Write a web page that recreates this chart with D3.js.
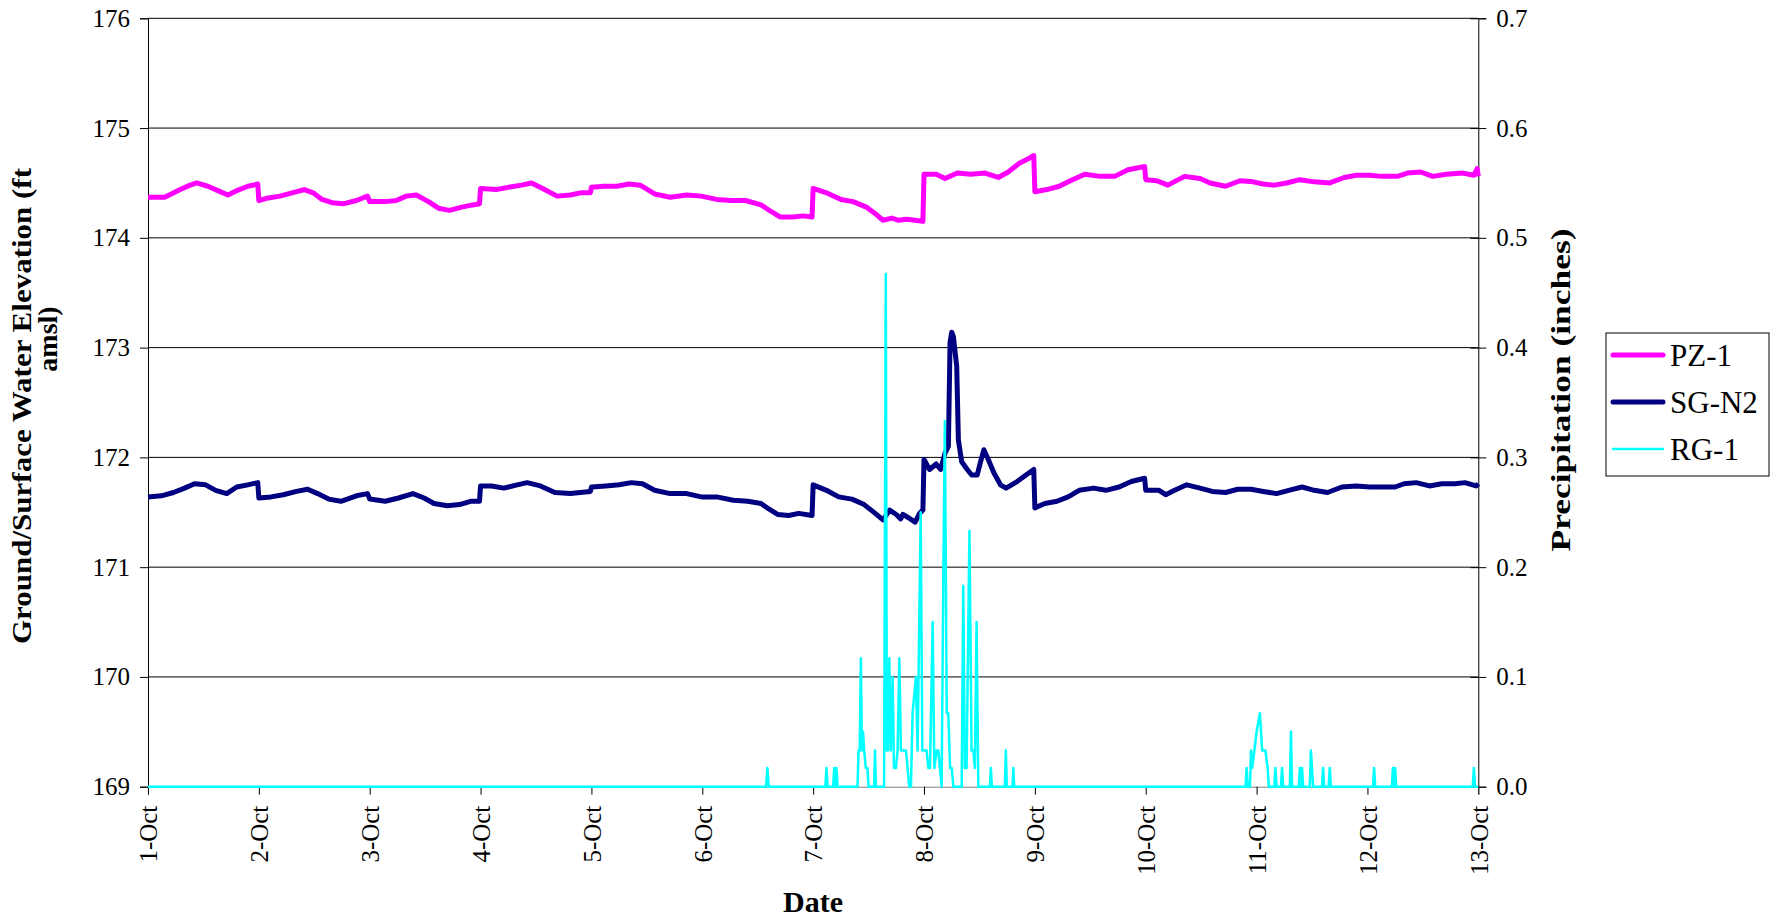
<!DOCTYPE html>
<html>
<head>
<meta charset="utf-8">
<script src="https://cdn.jsdelivr.net/npm/d3@7"></script>
<style>
  body { margin: 0; background: #fff; }
  svg text { font-family: "Palatino Linotype", "Book Antiqua", Palatino, "Liberation Serif", serif; fill: #000; }
</style>
</head>
<body>
<script>
// tick labels
var elevTicks = [169, 170, 171, 172, 173, 174, 175, 176];
var precipTicks = [0, 0.1, 0.2, 0.3, 0.4, 0.5, 0.6, 0.7];
var seriesNames = ['PZ-1', 'SG-N2', 'RG-1'];

// readings as [days since 1-Oct, value]
var pz1 = [[0,174.37],[0.15,174.37],[0.21,174.40],[0.29,174.44],[0.38,174.48],[0.44,174.50],[0.54,174.47],[0.63,174.43],
  [0.72,174.39],[0.80,174.43],[0.90,174.47],[0.99,174.49],[1.0,174.34],[1.07,174.36],[1.19,174.38],[1.30,174.41],
  [1.41,174.44],[1.49,174.41],[1.57,174.35],[1.66,174.32],[1.76,174.31],[1.88,174.34],[1.98,174.38],[2.0,174.33],
  [2.14,174.33],[2.24,174.34],[2.33,174.38],[2.42,174.39],[2.53,174.33],[2.62,174.27],[2.72,174.25],[2.83,174.28],
  [2.93,174.30],[2.99,174.31],[3.0,174.45],[3.14,174.44],[3.25,174.46],[3.37,174.48],[3.46,174.50],[3.56,174.45],
  [3.69,174.38],[3.81,174.39],[3.90,174.41],[3.99,174.41],[4.0,174.46],[4.11,174.47],[4.23,174.47],[4.34,174.49],
  [4.44,174.48],[4.57,174.40],[4.71,174.37],[4.86,174.39],[4.99,174.38],[5.13,174.35],[5.26,174.34],[5.39,174.34],
  [5.53,174.30],[5.62,174.24],[5.70,174.19],[5.82,174.19],[5.91,174.20],[5.99,174.19],[6.0,174.45],[6.12,174.41],
  [6.25,174.35],[6.36,174.33],[6.48,174.28],[6.56,174.22],[6.63,174.16],[6.71,174.18],[6.77,174.16],[6.84,174.17],
  [6.92,174.16],[6.99,174.15],[7.0,174.58],[7.11,174.58],[7.19,174.54],[7.30,174.59],[7.42,174.58],[7.55,174.59],
  [7.67,174.55],[7.76,174.60],[7.86,174.68],[7.94,174.72],[7.99,174.75],[8.0,174.42],[8.11,174.44],[8.22,174.47],
  [8.32,174.52],[8.45,174.58],[8.59,174.56],[8.72,174.56],[8.84,174.62],[8.99,174.65],[9.0,174.53],[9.10,174.52],
  [9.20,174.48],[9.35,174.56],[9.49,174.54],[9.58,174.50],[9.72,174.47],[9.85,174.52],[9.97,174.51],[10.06,174.49],
  [10.16,174.48],[10.27,174.50],[10.39,174.53],[10.52,174.51],[10.66,174.50],[10.79,174.55],[10.90,174.57],
  [11.02,174.57],[11.13,174.56],[11.27,174.56],[11.36,174.59],[11.48,174.60],[11.59,174.56],[11.71,174.58],
  [11.86,174.59],[11.96,174.57],[11.99,174.63],[12.0,174.56]];

var sgn2 = [[0,171.64],[0.12,171.65],[0.23,171.68],[0.33,171.72],[0.42,171.76],[0.52,171.75],[0.61,171.70],[0.71,171.67],
  [0.80,171.73],[0.90,171.75],[0.99,171.77],[1.0,171.63],[1.11,171.64],[1.22,171.66],[1.34,171.69],[1.44,171.71],
  [1.53,171.67],[1.63,171.62],[1.74,171.60],[1.88,171.65],[1.98,171.67],[2.0,171.62],[2.14,171.60],[2.26,171.63],
  [2.39,171.67],[2.49,171.63],[2.58,171.58],[2.70,171.56],[2.81,171.57],[2.91,171.60],[2.99,171.60],[3.0,171.74],
  [3.10,171.74],[3.21,171.72],[3.33,171.75],[3.42,171.77],[3.54,171.74],[3.67,171.68],[3.81,171.67],[3.99,171.69],
  [4.0,171.73],[4.13,171.74],[4.25,171.75],[4.36,171.77],[4.46,171.76],[4.57,171.70],[4.71,171.67],[4.86,171.67],
  [4.99,171.64],[5.13,171.64],[5.28,171.61],[5.41,171.60],[5.53,171.58],[5.60,171.53],[5.68,171.48],[5.78,171.47],
  [5.87,171.49],[5.99,171.47],[6.0,171.75],[6.12,171.70],[6.23,171.64],[6.35,171.62],[6.46,171.57],[6.56,171.49],
  [6.63,171.43],[6.69,171.52],[6.75,171.48],[6.79,171.44],[6.81,171.48],[6.86,171.45],[6.92,171.41],[6.96,171.49],
  [6.99,171.52],[7.0,171.98],[7.05,171.89],[7.11,171.94],[7.15,171.89],[7.19,172.04],[7.22,172.10],[7.235,173.05],
  [7.25,173.14],[7.265,173.10],[7.295,172.83],[7.31,172.16],[7.34,171.96],[7.39,171.89],[7.43,171.84],[7.48,171.84],
  [7.51,171.96],[7.54,172.07],[7.58,171.98],[7.63,171.86],[7.69,171.75],[7.74,171.72],[7.84,171.78],[7.92,171.84],
  [7.99,171.89],[8.0,171.54],[8.09,171.58],[8.20,171.60],[8.30,171.64],[8.40,171.70],[8.53,171.72],[8.64,171.70],
  [8.76,171.73],[8.87,171.78],[8.99,171.81],[9.0,171.70],[9.12,171.70],[9.18,171.66],[9.26,171.70],[9.37,171.75],
  [9.49,171.72],[9.60,171.69],[9.72,171.68],[9.83,171.71],[9.95,171.71],[10.06,171.69],[10.18,171.67],[10.29,171.70],
  [10.41,171.73],[10.52,171.70],[10.64,171.68],[10.77,171.73],[10.90,171.74],[11.02,171.73],[11.13,171.73],
  [11.25,171.73],[11.33,171.76],[11.44,171.77],[11.56,171.74],[11.67,171.76],[11.79,171.76],[11.88,171.77],
  [11.98,171.74],[12.0,171.76]];

var rg1 = [[0,0],[5.575,0],[5.587,0.017],[5.60,0],[6.11,0],[6.12,0.017],[6.13,0],[6.18,0],[6.19,0.017],[6.20,0],
  [6.21,0.017],[6.22,0],[6.40,0],[6.41,0.033],[6.42,0.033],[6.43,0.117],[6.44,0.033],[6.45,0.05],[6.46,0.033],
  [6.475,0.017],[6.49,0.017],[6.50,0],[6.55,0],[6.558,0.033],[6.566,0],[6.64,0],[6.655,0.467],[6.665,0.033],
  [6.675,0.033],[6.687,0.117],[6.70,0.033],[6.717,0.1],[6.729,0.017],[6.747,0.017],[6.762,0.033],[6.777,0.117],
  [6.792,0.033],[6.807,0.033],[6.837,0.033],[6.852,0.017],[6.867,0],[6.882,0],[6.897,0.067],[6.927,0.1],
  [6.942,0.033],[6.97,0.25],[6.985,0.033],[7.0,0.033],[7.023,0.033],[7.039,0.017],[7.054,0.017],[7.078,0.15],
  [7.093,0.017],[7.114,0.033],[7.129,0.033],[7.144,0.017],[7.159,0],[7.175,0.2],[7.188,0.333],[7.205,0.067],
  [7.219,0.067],[7.235,0.017],[7.25,0.017],[7.265,0],[7.34,0],[7.354,0.183],[7.368,0.017],[7.384,0.017],
  [7.41,0.233],[7.429,0.033],[7.444,0.033],[7.459,0.017],[7.474,0.15],[7.49,0],[7.594,0],[7.603,0.017],[7.612,0],
  [7.729,0],[7.738,0.033],[7.747,0],[7.799,0],[7.805,0.017],[7.814,0],[9.90,0],[9.91,0.017],[9.92,0],[9.94,0],
  [9.95,0.033],[9.96,0.017],[9.98,0.033],[10.0,0.05],[10.03,0.067],[10.05,0.033],[10.08,0.033],[10.10,0.017],
  [10.11,0],[10.16,0],[10.17,0.017],[10.18,0],[10.22,0],[10.23,0.017],[10.24,0],[10.30,0],[10.31,0.05],[10.32,0],
  [10.38,0],[10.39,0.017],[10.40,0],[10.41,0.017],[10.42,0],[10.48,0],[10.49,0.033],[10.50,0.017],[10.51,0],
  [10.59,0],[10.60,0.017],[10.61,0],[10.65,0],[10.66,0.017],[10.67,0],[11.05,0],[11.06,0.017],[11.07,0],[11.22,0],
  [11.23,0.017],[11.24,0],[11.25,0.017],[11.26,0],[11.95,0],[11.96,0.017],[11.97,0],[12.0,0]];

var W = 1777, H = 919;
var plotL = 148, plotR = 1478.3, plotT = 18.3, plotB = 786.7;
var fontStack = '"Palatino Linotype", "Book Antiqua", Palatino, "Liberation Serif", serif';
var t0 = Date.UTC(2007, 9, 1);
function toDate(d) { return new Date(t0 + d * 864e5); }

var svg = d3.select('body').append('svg').attr('width', W).attr('height', H);

var x = d3.scaleUtc().domain([toDate(0), toDate(12)]).range([plotL, plotR]);
var yL = d3.scaleLinear().domain([169, 176]).range([plotB, plotT]);
var yR = d3.scaleLinear().domain([0, 0.7]).range([plotB, plotT]);

// gridlines
svg.append('g').selectAll('line').data(elevTicks.slice(1)).enter().append('line')
  .attr('x1', plotL).attr('x2', plotR)
  .attr('y1', function(d) { return yL(d); }).attr('y2', function(d) { return yL(d); })
  .attr('stroke', '#000').attr('stroke-width', 1);

// x axis
var xAxis = svg.append('g').attr('transform', 'translate(0,' + plotB + ')')
  .call(d3.axisBottom(x).ticks(d3.utcDay.every(1)).tickSize(8).tickFormat(d3.utcFormat('%-d-%b')));
xAxis.attr('font-family', fontStack);
xAxis.select('.domain').attr('stroke', '#808080');
xAxis.selectAll('.tick line').attr('stroke', '#000');
xAxis.selectAll('.tick text')
  .attr('transform', 'rotate(-90)').attr('x', -19).attr('y', 0).attr('dy', '0.35em')
  .style('text-anchor', 'end').style('font-size', '25px');

// left axis
var lAxis = svg.append('g').attr('transform', 'translate(' + plotL + ',0)')
  .call(d3.axisLeft(yL).tickValues(elevTicks).tickSize(8).tickPadding(10).tickFormat(d3.format('d')));
lAxis.attr('font-family', fontStack);
lAxis.selectAll('text').style('font-size', '25px');

// right axis
var rAxis = svg.append('g').attr('transform', 'translate(' + plotR + ',0)')
  .call(d3.axisRight(yR).tickValues(precipTicks).tickSize(8).tickPadding(10).tickFormat(d3.format('.1f')));
rAxis.attr('font-family', fontStack);
rAxis.selectAll('.tick line').attr('x1', -8);
rAxis.selectAll('text').style('font-size', '25px');
svg.selectAll('.domain').attr('stroke-width', 1);

// lines
var lineL = d3.line().x(function(d) { return x(toDate(d[0])); }).y(function(d) { return yL(d[1]); });
var lineR = d3.line().x(function(d) { return x(toDate(d[0])); }).y(function(d) { return yR(d[1]); });

svg.append('path').datum(pz1).attr('d', lineL).attr('fill', 'none')
  .attr('stroke', '#ff00ff').attr('stroke-width', 5).attr('stroke-linejoin', 'round');
svg.append('path').datum(sgn2).attr('d', lineL).attr('fill', 'none')
  .attr('stroke', '#000080').attr('stroke-width', 5).attr('stroke-linejoin', 'round');
svg.append('path').datum(rg1).attr('d', lineR).attr('fill', 'none')
  .attr('stroke', '#00ffff').attr('stroke-width', 2.5).attr('stroke-linejoin', 'round');

// axis titles
svg.append('text').attr('transform', 'translate(31,406) rotate(-90)')
  .attr('text-anchor', 'middle').style('font-size', '28px').style('font-weight', 'bold')
  .attr('textLength', 476).attr('lengthAdjust', 'spacingAndGlyphs')
  .text('Ground/Surface Water Elevation (ft');
svg.append('text').attr('transform', 'translate(57,339) rotate(-90)')
  .attr('text-anchor', 'middle').style('font-size', '28px').style('font-weight', 'bold')
  .text('amsl)');
svg.append('text').attr('transform', 'translate(1570,390) rotate(-90)')
  .attr('text-anchor', 'middle').style('font-size', '28px').style('font-weight', 'bold')
  .attr('textLength', 323).attr('lengthAdjust', 'spacingAndGlyphs')
  .text('Precipitation (inches)');
svg.append('text').attr('x', 813).attr('y', 912)
  .attr('text-anchor', 'middle').style('font-size', '30px').style('font-weight', 'bold')
  .text('Date');

// legend
var legend = svg.append('g').attr('transform', 'translate(1606,333)');
legend.append('rect').attr('width', 163).attr('height', 143)
  .attr('fill', '#fff').attr('stroke', '#000').attr('stroke-width', 1);
var legendColors = ['#ff00ff', '#000080', '#00ffff'];
var legendWidths = [5, 5, 2.5];
var item = legend.selectAll('.item').data(seriesNames).enter().append('g')
  .attr('transform', function(d, i) { return 'translate(0,' + (22 + i * 47) + ')'; });
item.append('line').attr('x1', 7).attr('x2', 57)
  .attr('stroke', function(d, i) { return legendColors[i]; })
  .attr('stroke-width', function(d, i) { return legendWidths[i]; })
  .attr('stroke-linecap', 'round');
item.append('text').attr('x', 64).attr('dy', '0.35em').style('font-size', '31px')
  .text(function(d) { return d; });
</script>
</body>
</html>
